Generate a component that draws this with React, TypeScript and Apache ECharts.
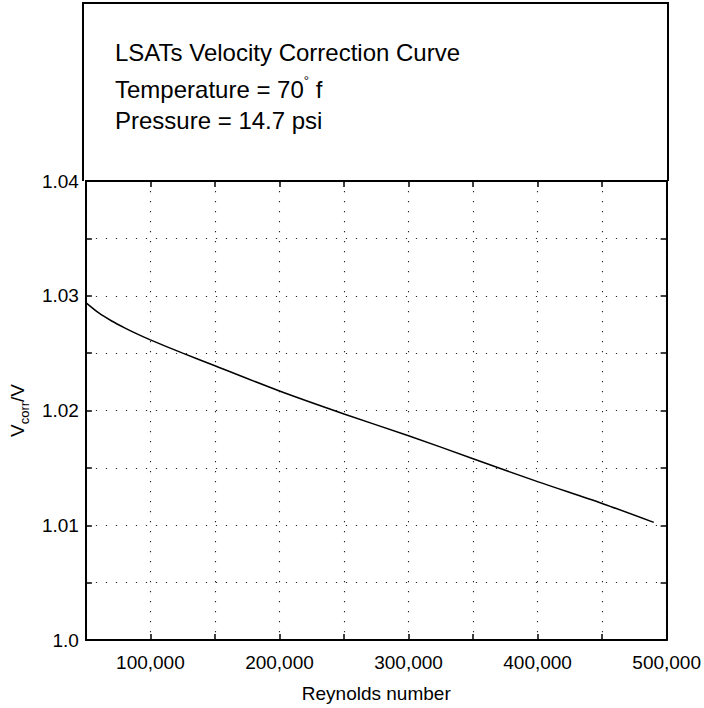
import React, { useEffect, useRef } from "react";
import * as echarts from "echarts";

// Reynolds number samples along the correction curve
const reynolds = [50000, 60000, 70000, 80000, 90000, 100000, 125000, 150000, 200000, 250000, 300000, 350000, 400000, 450000, 490000];
// Velocity correction factor Vcorr/V at each sample
const vcorr = [1.0294, 1.0285, 1.0278, 1.0272, 1.02665, 1.02615, 1.025, 1.0239, 1.0217, 1.0197, 1.0178, 1.0158, 1.0138, 1.0119, 1.01025];

// Labelled ticks
const xLabelValues = [100000, 200000, 300000, 400000, 500000];
const yLabelValues = [1.0, 1.01, 1.02, 1.03, 1.04];
const yLabelTexts = ["1.0", "1.01", "1.02", "1.03", "1.04"];

// Text block in the header panel
const headerLines = [
  "LSATs Velocity Correction Curve",
  "Temperature = 70{sup|°} f",
  "Pressure = 14.7 psi",
];

const FONT = '"Liberation Sans", Arial, Helvetica, sans-serif';

const GRID_LEFT = 83;
const GRID_RIGHT = 668;
const GRID_TOP = 181;
const GRID_BOTTOM = 653;
const W = 704;
const H = 708;

export default function App() {
  const ref = useRef<HTMLDivElement>(null);

  useEffect(() => {
    if (!ref.current) return;
    const chart = echarts.init(ref.current, null, { renderer: "svg" });

    const dotted = { type: [1.2, 8.8] as number[], color: "#222", width: 1.1 };
    const tick = { show: true, inside: true, length: 6, lineStyle: { color: "#000", width: 1.5 } };
    const axisLine = { show: true, lineStyle: { color: "#000", width: 2 } };

    const fmtX = (v: number) =>
      xLabelValues.includes(v) ? v.toLocaleString("en-US") : "";
    const fmtY = (v: number) => {
      const i = yLabelValues.findIndex((y) => Math.abs(y - v) < 1e-9);
      return i >= 0 ? yLabelTexts[i] : "";
    };

    chart.setOption({
      animation: false,
      backgroundColor: "#fff",
      textStyle: { fontFamily: FONT },
      grid: {
        left: GRID_LEFT,
        right: W - GRID_RIGHT,
        top: GRID_TOP,
        bottom: H - GRID_BOTTOM,
        show: false,
      },
      xAxis: [
        {
          type: "value",
          min: 50000,
          max: 500000,
          interval: 50000,
          axisLine,
          axisTick: tick,
          axisLabel: {
            formatter: fmtX,
            color: "#000",
            fontSize: 19,
            fontFamily: FONT,
            margin: 13,
            showMinLabel: true,
            showMaxLabel: true,
          },
          splitLine: { show: true, lineStyle: dotted },
          name: "Reynolds number",
          nameLocation: "middle",
          nameGap: 44,
          nameTextStyle: { color: "#000", fontSize: 19, fontFamily: FONT },
        },
        {
          type: "value",
          position: "top",
          min: 50000,
          max: 500000,
          interval: 50000,
          axisLine,
          axisTick: tick,
          axisLabel: { show: false },
          splitLine: { show: false },
        },
      ],
      yAxis: [
        {
          type: "value",
          min: 1.0,
          max: 1.04,
          interval: 0.005,
          axisLine,
          axisTick: tick,
          axisLabel: {
            formatter: fmtY,
            color: "#000",
            fontSize: 19,
            fontFamily: FONT,
            margin: 7,
          },
          splitLine: { show: true, lineStyle: dotted },
          name: "V{sub|corr}/V",
          nameLocation: "middle",
          nameRotate: 90,
          nameGap: 46,
          nameTextStyle: {
            color: "#000",
            fontSize: 19,
            fontFamily: FONT,
            rich: {
              sub: {
                fontSize: 13,
                fontFamily: FONT,
                color: "#000",
                verticalAlign: "bottom",
                lineHeight: 27,
              },
            },
          },
        },
        {
          type: "value",
          position: "right",
          min: 1.0,
          max: 1.04,
          interval: 0.005,
          axisLine,
          axisTick: tick,
          axisLabel: { show: false },
          splitLine: { show: false },
        },
      ],
      graphic: [
        {
          type: "polyline",
          shape: {
            points: [
              [GRID_LEFT, GRID_TOP],
              [GRID_LEFT, 3],
              [GRID_RIGHT, 3],
              [GRID_RIGHT, GRID_TOP],
            ],
          },
          style: { stroke: "#000", lineWidth: 2, fill: "none" },
          z: 10,
        },
        ...headerLines.map((t, i) => ({
          type: "text",
          left: 115,
          top: 40 + i * 34,
          style: {
            text: t,
            fill: "#000",
            font: `24px ${FONT}`,
            rich: {
              sup: {
                fontSize: 13,
                fontFamily: FONT,
                fill: "#000",
                verticalAlign: "top",
                lineHeight: 31,
              },
            },
          },
          z: 10,
        })),
      ],
      series: [
        {
          type: "line",
          data: reynolds.map((r, i) => [r, vcorr[i]]),
          smooth: 0.3,
          symbol: "none",
          lineStyle: { color: "#000", width: 1.5 },
          z: 5,
        },
      ],
    });

    return () => chart.dispose();
  }, []);

  return (
    <div
      ref={ref}
      style={{ position: "fixed", left: 0, top: 0, width: W, height: H, background: "#fff" }}
    />
  );
}
